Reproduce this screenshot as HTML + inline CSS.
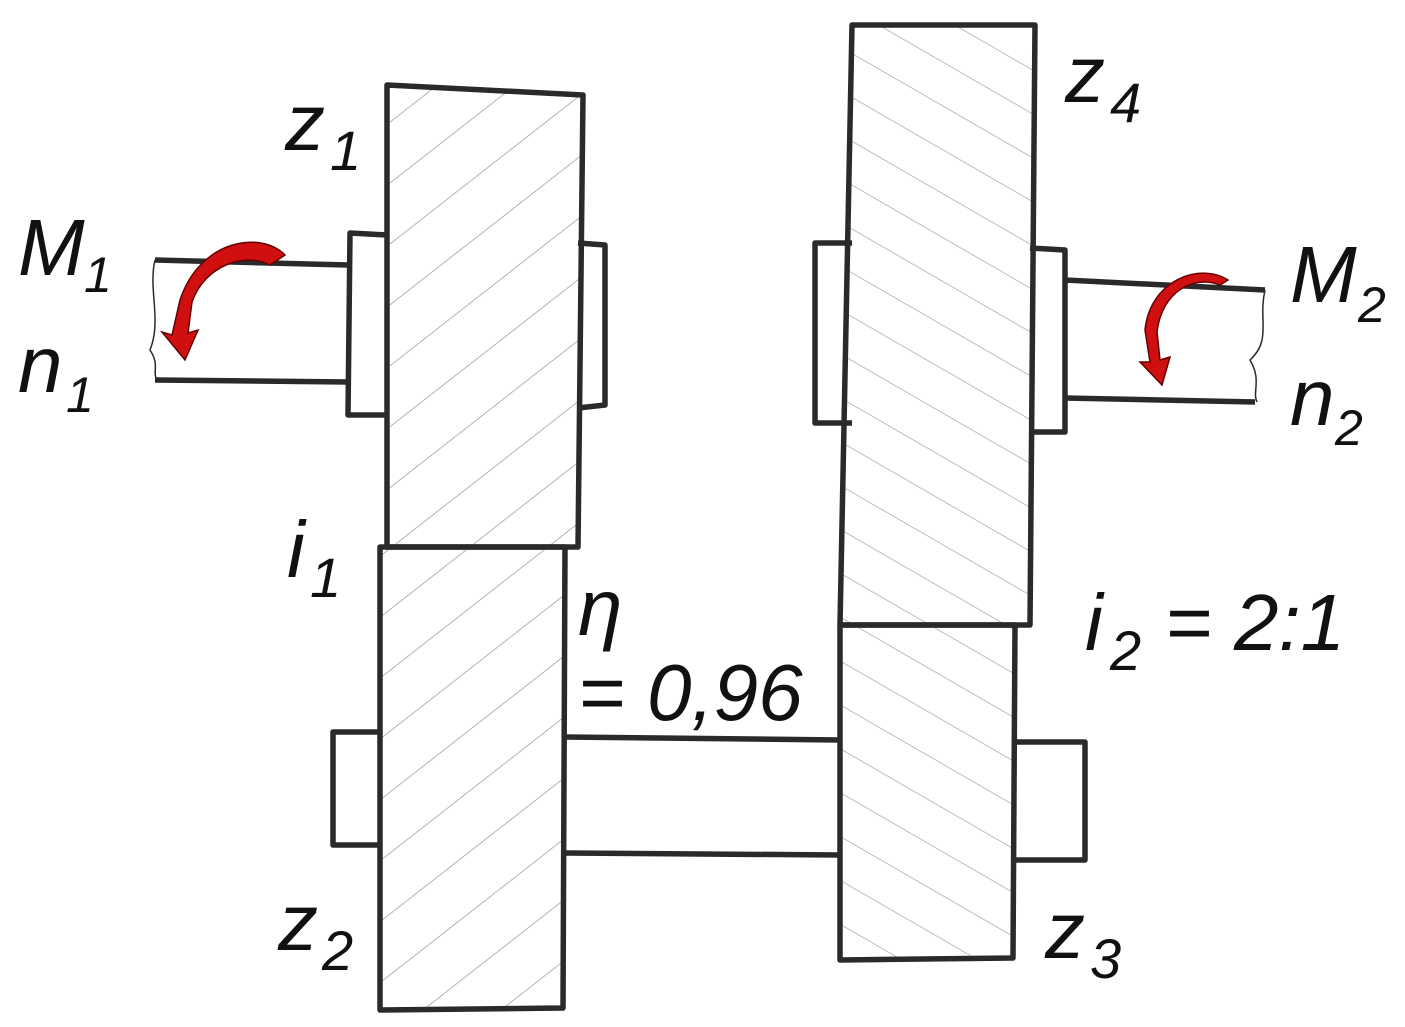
<!DOCTYPE html>
<html><head><meta charset="utf-8"><style>
html,body{margin:0;padding:0;background:#fff;}
svg{display:block;}
text{font-family:"Liberation Sans",sans-serif;font-style:italic;fill:#111;}
</style></head><body>
<svg width="1405" height="1027" viewBox="0 0 1405 1027" xmlns="http://www.w3.org/2000/svg">
<defs>
<pattern id="h1" patternUnits="userSpaceOnUse" width="48" height="48" patternTransform="rotate(-38)">
<line x1="0" y1="0" x2="48" y2="0" stroke="#888" stroke-width="1.3"/>
</pattern>
<pattern id="h2" patternUnits="userSpaceOnUse" width="38" height="38" patternTransform="rotate(30)">
<line x1="0" y1="0" x2="38" y2="0" stroke="#999" stroke-width="1.3"/>
</pattern>
</defs>
<g fill="none" stroke="#2a2a2a" stroke-width="5.5" stroke-linejoin="round">
<path d="M155 260 L348 265 M155 380 L348 382"/>
<path d="M155 260 C148 290,162 320,150 350 C160 365,152 372,157 380" stroke-width="1.5"/>
<path d="M387 235 L350 233 L348 415 L387 415"/>
<path d="M578 243 L605 245 L605 405 L578 408"/>
<path d="M387 85 L583 95 L578 547 L387 547 Z" fill="url(#h1)"/>
<path d="M380 547 L565 547 L563 1008 L380 1010 Z" fill="url(#h1)"/>
<path d="M380 732 L333 732 L333 845 L380 845"/>
<path d="M565 737 L840 740 M565 853 L840 855"/>
<path d="M852 25 L1035 25 L1030 625 L840 625 Z" fill="url(#h2)"/>
<path d="M840 625 L1015 625 L1013 958 L840 960 Z" fill="url(#h2)"/>
<path d="M852 243 L815 243 L815 423 L852 423"/>
<path d="M1030 248 L1065 250 L1065 432 L1030 432"/>
<path d="M1065 280 L1265 290 M1065 398 L1255 402"/>
<path d="M1265 290 C1258 320,1272 340,1250 360 C1262 380,1252 392,1257 402" stroke-width="1.5"/>
<path d="M1015 742 L1085 742 L1085 860 L1015 860"/>
</g>
<g fill="#d01010" stroke="#600" stroke-width="1.5">
<path d="M285 255 C260 230,200 240,180 300 L172 335 L162 332 L185 360 L198 330 L188 333 L192 302 C205 265,245 252,270 265 Z"/>
<path d="M1228 280 C1200 262,1150 280,1145 330 L1150 362 L1140 362 L1162 385 L1170 357 L1160 360 L1157 332 C1162 290,1195 275,1220 285 Z"/>
</g>
<g font-size="80">
<text x="285" y="150">z</text><text x="330" y="170" font-size="56">1</text>
<text x="18" y="275">M</text><text x="84" y="292" font-size="50">1</text>
<text x="18" y="392">n</text><text x="66" y="412" font-size="50">1</text>
<text x="287" y="577">i</text><text x="310" y="597" font-size="56">1</text>
<text x="278" y="950">z</text><text x="322" y="970" font-size="56">2</text>
<text x="578" y="635">η</text>
<text x="578" y="720">= 0,96</text>
<text x="1065" y="102">z</text><text x="1110" y="122" font-size="56">4</text>
<text x="1290" y="302">M</text><text x="1358" y="322" font-size="50">2</text>
<text x="1290" y="425">n</text><text x="1335" y="445" font-size="50">2</text>
<text x="1085" y="650">i</text><text x="1110" y="670" font-size="56">2</text>
<text x="1165" y="650" font-style="normal">= 2:1</text>
<text x="1045" y="958">z</text><text x="1090" y="978" font-size="56">3</text>
</g>
</svg>
</body></html>
